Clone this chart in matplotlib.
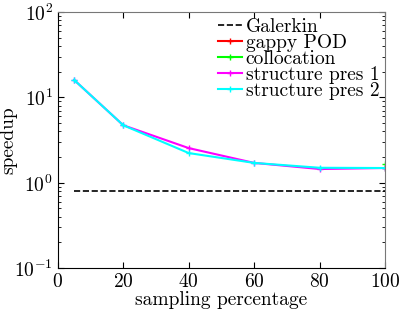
import numpy as np
import matplotlib.pyplot as plt

plt.rcParams['font.family'] = 'serif'
plt.rcParams['font.serif'] = ['cmr10']
plt.rcParams['mathtext.fontset'] = 'cm'
plt.rcParams['axes.formatter.use_mathtext'] = True

# data
pct = [5, 20, 40, 60, 80, 100]
galerkin_x = [5, 100]
galerkin = [0.81, 0.81]
gappy_x = [100]
gappy = [1.5]
colloc_x = [100]
colloc = [1.68]
sp1 = [16.0, 4.72, 2.55, 1.71, 1.45, 1.49]
sp2 = [16.0, 4.72, 2.23, 1.71, 1.50, 1.49]

fig = plt.figure(figsize=(3.99, 3.10), dpi=100)
ax = fig.add_axes([0.145, 0.135, 0.82, 0.826])

ax.plot(galerkin_x, galerkin, 'k--', lw=1.2, label='Galerkin')
ax.plot(gappy_x, gappy, color='red', marker='+', ms=5, lw=1.5, label='gappy POD')
ax.plot(colloc_x, colloc, color='#00ff00', marker='+', ms=5, lw=1.5, label='collocation')
ax.plot(pct, sp1, color='magenta', marker='+', ms=5, lw=1.5, label='structure pres 1')
ax.plot(pct, sp2, color='cyan', marker='+', ms=5, lw=1.5, label='structure pres 2')

ax.set_yscale('log')
ax.set_xlim(0, 100)
ax.set_ylim(0.1, 100)
ax.set_xticks([0, 20, 40, 60, 80, 100])
ax.tick_params(which='both', direction='in', top=True, right=True, labelsize=14)
ax.tick_params(which='major', length=4)
ax.tick_params(which='minor', length=2)
ax.set_xlabel('sampling percentage', fontsize=14, labelpad=0)
ax.set_ylabel('speedup', fontsize=14, labelpad=-2)
for s in ['top', 'right']:
    ax.spines[s].set_color('#777777')

ax.legend(loc='upper right', frameon=False, fontsize=14, handlelength=1.2,
          handletextpad=0.2, labelspacing=-0.1, borderaxespad=0.2,
          borderpad=0.1)

fig.savefig('out.png', dpi=100)
